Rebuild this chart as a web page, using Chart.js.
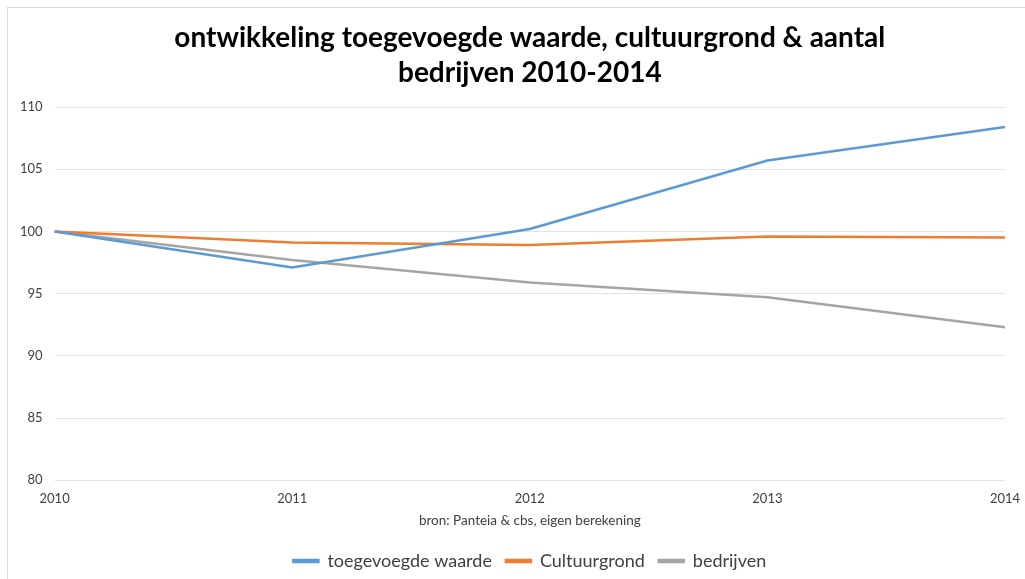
<!DOCTYPE html>
<html>
<head>
<meta charset="utf-8">
<script src="https://cdn.jsdelivr.net/npm/chart.js@4"></script>
<style>
  html, body { margin: 0; padding: 0; background: #fff; overflow: hidden; width: 1025px; height: 579px; }
  #frame { position: absolute; left: 7px; top: 7px; width: 1028px; height: 590px; border: 1px solid #d9d9d9; background: #fff; }
  #wrap { position: absolute; left: 0; top: 0; width: 1028px; height: 572px; }
</style>
</head>
<body>
<div id="frame"><div id="wrap"><canvas id="c"></canvas></div></div>
<script>
const years = ['2010', '2011', '2012', '2013', '2014'];
const toegevoegdeWaarde = [100, 97.1, 100.2, 105.7, 108.4];
const cultuurgrond = [100, 99.1, 98.9, 99.6, 99.5];
const bedrijven = [100, 97.7, 95.9, 94.7, 92.3];
const seriesNames = ['toegevoegde waarde', 'Cultuurgrond', 'bedrijven'];
const titleLines = ['ontwikkeling toegevoegde waarde, cultuurgrond & aantal', 'bedrijven 2010-2014'];
const sourceNote = 'bron: Panteia & cbs, eigen berekening';
const yMin = 80, yMax = 110, yStep = 5;

const colors = ['#5b9bd5', '#ed7d31', '#a5a5a5'];
const font = "Lato, 'Open Sans', sans-serif";

new Chart(document.getElementById('c'), {
  type: 'line',
  data: {
    labels: years,
    datasets: [toegevoegdeWaarde, cultuurgrond, bedrijven].map((d, i) => ({
      label: seriesNames[i],
      data: d,
      borderColor: colors[i],
      backgroundColor: colors[i],
      borderWidth: 2.5,
      pointRadius: 0,
      tension: 0
    }))
  },
  options: {
    responsive: true,
    maintainAspectRatio: false,
    animation: false,
    layout: { padding: { left: 0, right: 31, top: 8, bottom: 0 } },
    plugins: {
      title: {
        display: true,
        fullSize: false,
        text: titleLines,
        color: '#000',
        font: { family: font, size: 28, weight: 'bold', lineHeight: 1.25 },
        padding: { top: 4, bottom: 17 }
      },
      legend: {
        position: 'bottom',
        fullSize: false,
        labels: {
          color: '#404040',
          font: { family: font, size: 18 },
          boxWidth: 25,
          boxHeight: 2,
          padding: 14
        }
      },
      tooltip: { enabled: false }
    },
    scales: {
      x: {
        type: 'category',
        offset: false,
        grid: { display: false, drawTicks: false },
        border: { display: false },
        ticks: { color: '#404040', font: { family: font, size: 13 }, padding: 11, maxRotation: 0 },
        title: { display: true, text: sourceNote, color: '#404040', font: { family: font, size: 13.5 }, padding: { top: -5, bottom: 9 } }
      },
      y: {
        min: yMin,
        max: yMax,
        grid: { color: '#e3e3e3', lineWidth: 1, drawTicks: false },
        border: { display: false },
        ticks: { stepSize: yStep, color: '#404040', font: { family: font, size: 13 }, padding: 12 }
      }
    }
  }
});
</script>
</body>
</html>
